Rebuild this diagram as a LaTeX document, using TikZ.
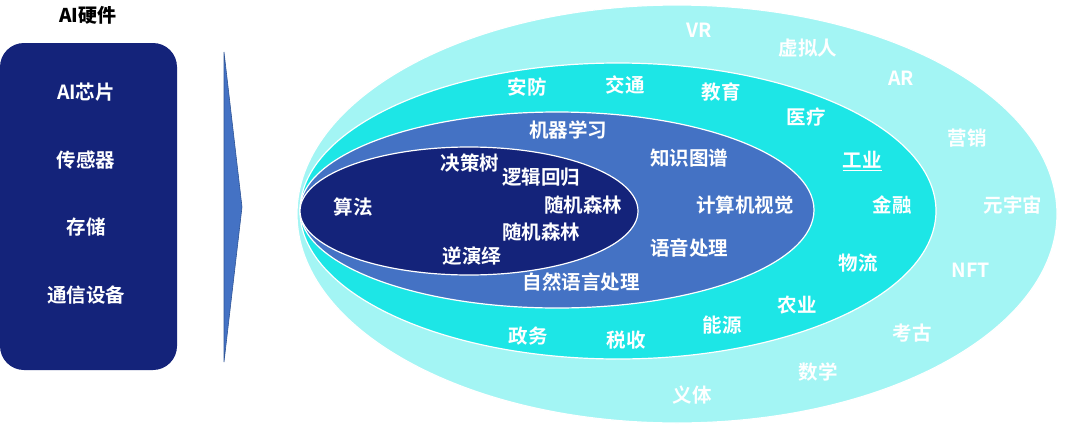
\documentclass[tikz,border=0pt]{standalone}
\usepackage{fontspec}
\usetikzlibrary{shapes.geometric}
\newfontfamily\cjk{Noto Sans CJK SC}[UprightFont={* Bold},BoldFont={* Black}]
\definecolor{ringA}{HTML}{A3F5F4}
\definecolor{ringB}{HTML}{1DE6E6}
\definecolor{ringC}{HTML}{4472C4}
\definecolor{ringD}{HTML}{14237A}
\definecolor{boxc}{HTML}{14237A}
\definecolor{arrowline}{HTML}{2F5597}
\begin{document}
\begin{tikzpicture}[x=1pt,y=-1pt,
  lbl/.style={text=white,font=\cjk\fontsize{19.5}{22}\selectfont,inner sep=0pt},
  ring/.style={ellipse,draw=white,line width=1.2pt,inner sep=0pt}]
\useasboundingbox (0,0) rectangle (1080,429);
\fill[white] (0,0) rectangle (1080,429);
% title and hardware box
\node[font=\cjk\bfseries\fontsize{19}{21}\selectfont,inner sep=0pt] (title) at (88,15) {AI硬件};
\node[fill=boxc,rounded corners=24pt,minimum width=177pt,minimum height=327pt,inner sep=0pt] (hw) at (88.5,206.5) {};
\node[lbl] (hw1) at (86,92) {AI芯片};
\node[lbl] (hw2) at (86,160) {传感器};
\node[lbl] (hw3) at (86,227) {存储};
\node[lbl] (hw4) at (86,295) {通信设备};
% arrow (thin triangle)
\coordinate (ta) at (224,52);
\coordinate (tb) at (242,207);
\coordinate (tc) at (224,362);
\draw[fill=ringC,draw=arrowline,line width=0.6pt] (ta) -- (tb) -- (tc) -- cycle;
% rings
\node[ring,fill=ringA,minimum width=760pt,minimum height=418pt] (e1) at (677,214) {};
\node[ring,fill=ringB,minimum width=636pt,minimum height=296pt] (e2) at (618,211) {};
\node[ring,fill=ringC,minimum width=514pt,minimum height=196pt] (e3) at (557,210) {};
\node[ring,fill=ringD,minimum width=338pt,minimum height=128pt] (e4) at (469,211) {};
% outer ring labels
\node[lbl] (a1) at (699,30) {VR};
\node[lbl] (a2) at (808,48) {虚拟人};
\node[lbl] (a3) at (901,78) {AR};
\node[lbl] (a4) at (967,138) {营销};
\node[lbl] (a5) at (1013,205) {元宇宙};
\node[lbl] (a6) at (971,270) {NFT};
\node[lbl] (a7) at (912,333) {考古};
\node[lbl] (a8) at (818,372) {数学};
\node[lbl] (a9) at (692,395) {义体};
% second ring labels
\node[lbl] (b1) at (527,87) {安防};
\node[lbl] (b2) at (625,85) {交通};
\node[lbl] (b3) at (721,92) {教育};
\node[lbl] (b4) at (806,117) {医疗};
\node[lbl] (b5) at (862,161) {\underline{工业}};
\node[lbl] (b6) at (892,205) {金融};
\node[lbl] (b7) at (858,263) {物流};
\node[lbl] (b8) at (797,305) {农业};
\node[lbl] (b9) at (722,325) {能源};
\node[lbl] (b10) at (626,340) {税收};
\node[lbl] (b11) at (528,336) {政务};
% third ring labels
\node[lbl] (c1) at (568,130) {机器学习};
\node[lbl] (c2) at (689,158) {知识图谱};
\node[lbl] (c3) at (745,205) {计算机视觉};
\node[lbl] (c4) at (689,248) {语音处理};
\node[lbl] (c5) at (581,282) {自然语言处理};
% inner labels
\node[lbl] (d1) at (353,207) {算法};
\node[lbl] (d2) at (470,163) {决策树};
\node[lbl] (d3) at (541,177) {逻辑回归};
\node[lbl] (d4) at (583,205) {随机森林};
\node[lbl] (d5) at (541,232) {随机森林};
\node[lbl] (d6) at (472,256) {逆演绎};
\end{tikzpicture}
\end{document}
